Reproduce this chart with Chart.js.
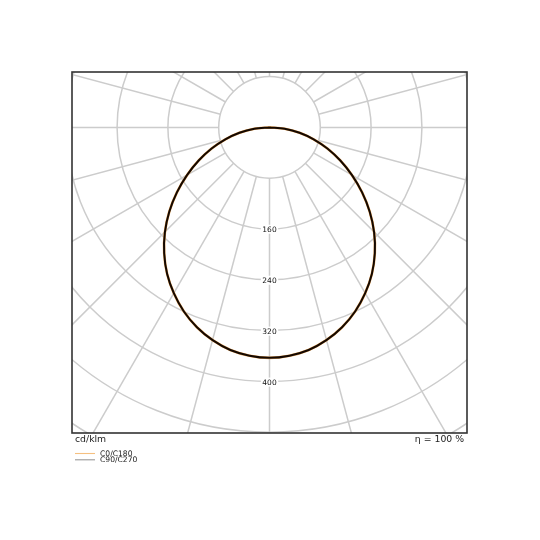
<!DOCTYPE html>
<html>
<head>
<meta charset="utf-8">
<script src="https://cdn.jsdelivr.net/npm/chart.js@4"></script>
<style>
  body { margin: 0; background: #fff; }
  #ldc { display: block; }
</style>
</head>
<body>
<canvas id="ldc" width="540" height="540"></canvas>
<script>
// gamma angles from nadir (deg) and luminous intensity (cd/klm)
const angles = [0, 5, 10, 15, 20, 25, 30, 35, 40, 45, 50, 55, 60, 65, 70, 75, 80, 85, 90];
const c0c180 = [362, 360, 355, 346, 334, 319, 301, 281, 258, 233, 206, 178, 150, 123, 97, 72, 48, 24, 0];
const c90c270 = [362, 360, 355, 346, 334, 319, 301, 281, 258, 233, 206, 178, 150, 123, 97, 72, 48, 24, 0];

const ringValues = [80, 160, 240, 320, 400, 480, 560, 640];
const ringLabels = ['160', '240', '320', '400'];
const unitLabel = 'cd/klm';
const effLabel = 'η = 100 %';
const legendNames = ['C0/C180', 'C90/C270'];

// polar -> cartesian, left half is the opposite plane (C180 / C270)
function toXY(vals) {
  const pts = [];
  for (let i = angles.length - 1; i >= 0; i--) {
    const a = angles[i] * Math.PI / 180;
    pts.push({ x: -vals[i] * Math.sin(a), y: -vals[i] * Math.cos(a) });
  }
  for (let i = 1; i < angles.length; i++) {
    const a = angles[i] * Math.PI / 180;
    pts.push({ x: vals[i] * Math.sin(a), y: -vals[i] * Math.cos(a) });
  }
  return pts;
}

const polarGrid = {
  id: 'polarGrid',
  beforeDatasetsDraw(chart) {
    const ctx = chart.ctx;
    const area = chart.chartArea;
    const xs = chart.scales.x, ys = chart.scales.y;
    const cx = xs.getPixelForValue(0), cy = ys.getPixelForValue(0);
    const k = xs.getPixelForValue(100) - cx; // px per 100 cd/klm

    ctx.save();
    ctx.beginPath();
    ctx.rect(area.left, area.top, area.right - area.left, area.bottom - area.top);
    ctx.clip();
    ctx.strokeStyle = '#cccccc';
    ctx.lineWidth = 1.5;

    ringValues.forEach(r => {
      ctx.beginPath();
      ctx.arc(cx, cy, r * k / 100, 0, Math.PI * 2);
      ctx.stroke();
    });

    for (let g = 0; g < 360; g += 15) {
      const a = g * Math.PI / 180;
      const r0 = ringValues[0] * k / 100, r1 = 800 * k / 100;
      ctx.beginPath();
      ctx.moveTo(cx + r0 * Math.sin(a), cy + r0 * Math.cos(a));
      ctx.lineTo(cx + r1 * Math.sin(a), cy + r1 * Math.cos(a));
      ctx.stroke();
    }

    ctx.font = '7.5px "DejaVu Sans"';
    ctx.textAlign = 'center';
    ctx.textBaseline = 'middle';
    ringLabels.forEach(t => {
      const y = ys.getPixelForValue(-Number(t));
      const w = ctx.measureText(t).width;
      ctx.fillStyle = '#fff';
      ctx.fillRect(cx - w / 2 - 1.5, y - 4.5, w + 3, 9);
      ctx.fillStyle = '#111';
      ctx.fillText(t, cx, y + 0.5);
    });
    ctx.restore();
  },
  afterDraw(chart) {
    const ctx = chart.ctx;
    const area = chart.chartArea;
    ctx.save();
    ctx.strokeStyle = '#333';
    ctx.lineWidth = 1.6;
    ctx.strokeRect(area.left, area.top, area.right - area.left, area.bottom - area.top);

    ctx.fillStyle = '#222';
    ctx.font = '9.3px "DejaVu Sans"';
    ctx.textBaseline = 'middle';
    ctx.textAlign = 'left';
    ctx.fillText(unitLabel, area.left + 3, 440);
    ctx.textAlign = 'right';
    ctx.fillText(effLabel, area.right - 3, 440);

    const legendColors = ['#f5c080', '#999999'];
    const legendY = [453.5, 459.8];
    ctx.font = '7.6px "DejaVu Sans"';
    ctx.textAlign = 'left';
    legendNames.forEach((name, i) => {
      ctx.strokeStyle = legendColors[i];
      ctx.lineWidth = 1.1;
      ctx.beginPath();
      ctx.moveTo(75, legendY[i]);
      ctx.lineTo(95, legendY[i]);
      ctx.stroke();
      ctx.fillStyle = '#222';
      ctx.fillText(name, 100, legendY[i] + 0.5);
    });
    ctx.restore();
  }
};

new Chart(document.getElementById('ldc'), {
  type: 'scatter',
  data: {
    datasets: [
      {
        label: legendNames[0],
        data: toXY(c0c180),
        showLine: true,
        borderColor: '#e8a65a',
        borderWidth: 2.6,
        pointRadius: 0,
        tension: 0.3,
        order: 2
      },
      {
        label: legendNames[1],
        data: toXY(c90c270),
        showLine: true,
        borderColor: '#140800',
        borderWidth: 2,
        pointRadius: 0,
        tension: 0.3,
        order: 1
      }
    ]
  },
  options: {
    responsive: false,
    animation: false,
    layout: { padding: { left: 72, right: 73, top: 72, bottom: 107 } },
    scales: {
      x: { type: 'linear', min: -311, max: 311, display: false },
      y: { type: 'linear', min: -480, max: 87, display: false }
    },
    plugins: {
      legend: { display: false },
      tooltip: { enabled: false }
    }
  },
  plugins: [polarGrid]
});
</script>
</body>
</html>
